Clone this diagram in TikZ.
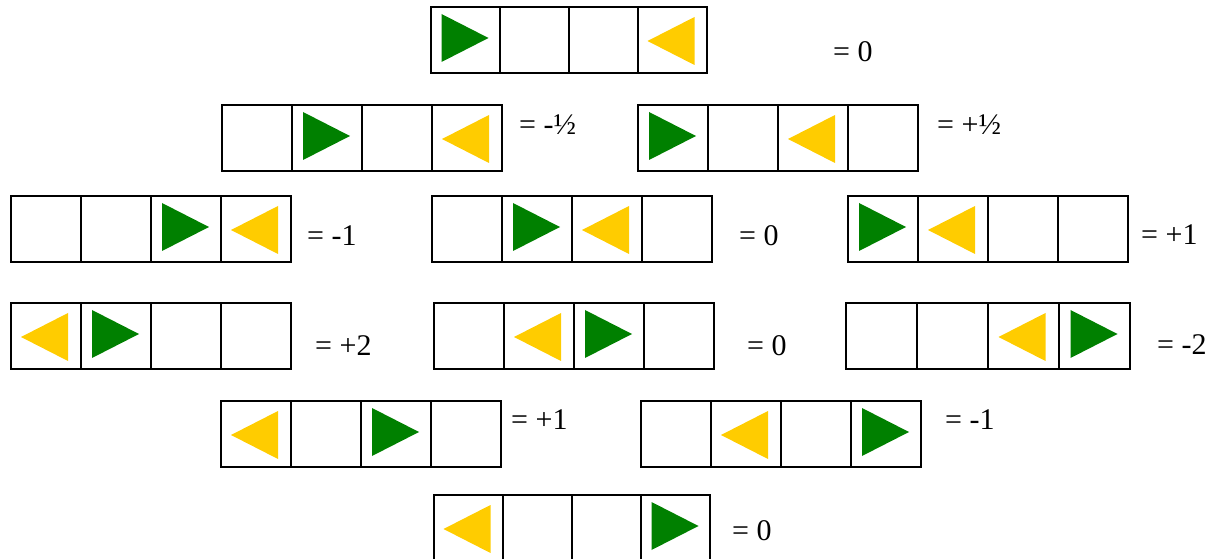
\documentclass[tikz,border=0pt]{standalone}
\usepackage{fontspec}
\setmainfont{Liberation Serif}
\newfontfamily\labfont{Liberation Serif}
\usetikzlibrary{calc}
\definecolor{grn}{HTML}{008000}
\definecolor{ylw}{HTML}{FFCC00}
\tikzset{
  cellbox/.style={draw=black, line width=2bp, inner sep=0pt, minimum height=66bp},
  vallabel/.style={anchor=base west, inner sep=0pt, font=\labfont\fontsize{30bp}{32bp}\selectfont},
  gtri/.style={fill=grn},
  ytri/.style={fill=ylw}
}
\newcommand\cellrow[5]{%
  \pgfmathsetmacro\cw{round((#4-#2)/4)}%
  \foreach \k/\t in {#5} {%
    \node[cellbox, minimum width=\cw bp, anchor=north west] (#1c\k) at ({#2+(\k-1)*\cw}, #3) {};
    \ifnum\t=1
      \fill[gtri] ([shift={(-24,-26)}]#1c\k.center) -- ([shift={(23,-2)}]#1c\k.center) -- ([shift={(-24,22)}]#1c\k.center) -- cycle;
    \fi
    \ifnum\t=2
      \fill[ytri] ([shift={(22,-23)}]#1c\k.center) -- ([shift={(-25,1)}]#1c\k.center) -- ([shift={(22,25)}]#1c\k.center) -- cycle;
    \fi
  }%
}
\begin{document}
\begin{tikzpicture}[x=1bp,y=-1bp]
\useasboundingbox (0,0) rectangle (1218,559);
% row 1
\cellrow{a}{430}{6}{706}{1/1,2/0,3/0,4/2}
\node[vallabel] (la) at (833,62) {= 0};
% row 2
\cellrow{b}{221}{104}{502}{1/0,2/1,3/0,4/2}
\node[vallabel] (lb) at (519,135) {= -½};
\cellrow{c}{637}{104}{918}{1/1,2/0,3/2,4/0}
\node[vallabel] (lc) at (937,135) {= +½};
% row 3
\cellrow{d}{10}{195}{291}{1/0,2/0,3/1,4/2}
\node[vallabel] (ld) at (307,246) {= -1};
\cellrow{e}{431}{195}{711}{1/0,2/1,3/2,4/0}
\node[vallabel] (le) at (739,246) {= 0};
\cellrow{f}{847}{195}{1127}{1/1,2/2,3/0,4/0}
\node[vallabel] (lf) at (1141,245) {= +1};
% row 4
\cellrow{g}{10}{302}{290}{1/2,2/1,3/0,4/0}
\node[vallabel] (lg) at (315,356) {= +2};
\cellrow{h}{433}{302}{711}{1/0,2/2,3/1,4/0}
\node[vallabel] (lh) at (747,356) {= 0};
\cellrow{i}{845}{302}{1127}{1/0,2/0,3/2,4/1}
\node[vallabel] (li) at (1157,355) {= -2};
% row 5
\cellrow{j}{220}{400}{498}{1/2,2/0,3/1,4/0}
\node[vallabel] (lj) at (511,429) {= +1};
\cellrow{k}{640}{400}{918}{1/0,2/2,3/0,4/1}
\node[vallabel] (lk) at (945,429) {= -1};
% row 6
\cellrow{m}{433}{494}{709}{1/2,2/0,3/0,4/1}
\node[vallabel] (lm) at (732,540) {= 0};
\end{tikzpicture}
\end{document}
